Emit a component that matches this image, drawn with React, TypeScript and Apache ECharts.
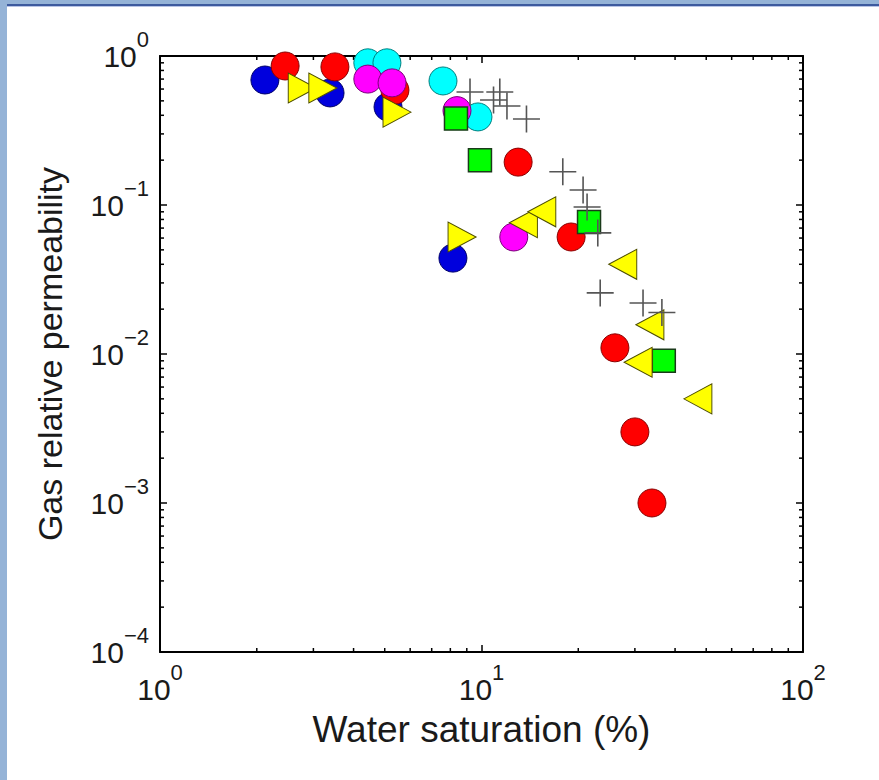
import React, { useEffect, useRef } from 'react';
import * as echarts from 'echarts';

// ---- data ----
const blueX = [2.12, 3.38, 5.12, 8.15];
const blueY = [0.69, 0.565, 0.455, 0.044];

const redX = [2.45, 3.5, 5.38, 13.0, 19.0, 26.0, 30.0, 33.9];
const redY = [0.857, 0.845, 0.59, 0.194, 0.061, 0.011, 0.003, 0.001];

const cyanX = [4.43, 5.08, 7.59, 9.75];
const cyanY = [0.9, 0.9, 0.68, 0.39];

const magentaX = [4.43, 5.27, 8.39, 12.6];
const magentaY = [0.7, 0.66, 0.43, 0.061];

const greenX = [8.33, 9.89, 21.6, 36.9];
const greenY = [0.38, 0.2, 0.077, 0.009];

const rightTriX = [2.77, 3.21, 5.46, 8.7];
const rightTriY = [0.61, 0.61, 0.42, 0.061];

const leftTriX = [13.5, 15.4, 27.5, 33.4, 30.7, 47.1];
const leftTriY = [0.076, 0.09, 0.04, 0.0157, 0.0088, 0.005];

const plusX = [9.21, 11.4, 10.9, 12.0, 13.8, 17.9, 20.7, 21.3, 23.0, 23.4, 31.8, 36.4];
const plusY = [0.573, 0.573, 0.507, 0.462, 0.378, 0.167, 0.126, 0.097, 0.065, 0.0257, 0.022, 0.019];

const xMin = 1;
const xMax = 100;
const yMin = 1e-4;
const yMax = 1;
const xMinorTicks = [2, 3, 4, 5, 6, 7, 8, 9, 20, 30, 40, 50, 60, 70, 80, 90];
const yMinorTicks = [
  2e-4, 3e-4, 4e-4, 5e-4, 6e-4, 7e-4, 8e-4, 9e-4,
  2e-3, 3e-3, 4e-3, 5e-3, 6e-3, 7e-3, 8e-3, 9e-3,
  2e-2, 3e-2, 4e-2, 5e-2, 6e-2, 7e-2, 8e-2, 9e-2,
  0.2, 0.3, 0.4, 0.5, 0.6, 0.7, 0.8, 0.9,
];

const xTitle = 'Water saturation (%)';
const yTitle = 'Gas relative permeability';

const FONT = '"Liberation Sans", Arial, Helvetica, sans-serif';
const TXT = '#1a1a1a';

const zip = (xs: number[], ys: number[]) => xs.map((x, i) => [x, ys[i]]);

const powLabel = (v: number) => {
  const e = Math.round(Math.log10(v));
  const s = e < 0 ? '\u2212' + Math.abs(e) : String(e);
  return `{b|10}{s|${s}}`;
};

const richStyle = {
  b: { fontSize: 30, lineHeight: 56, fontFamily: FONT, color: TXT },
  s: { fontSize: 22, lineHeight: 20, verticalAlign: 'top', fontFamily: FONT, color: TXT },
};

export default function App() {
  const ref = useRef<HTMLDivElement>(null);

  useEffect(() => {
    if (!ref.current) return;
    const chart = echarts.init(ref.current, undefined, { renderer: 'svg' });

    const axisLine = { show: true, lineStyle: { color: '#000', width: 2 } };
    const axisTick = { show: true, inside: true, length: 7, lineStyle: { color: '#000', width: 1.5 } };

    const tickLine = (x1: number, y1: number, x2: number, y2: number) => ({
      type: 'line',
      shape: { x1, y1, x2, y2 },
      style: { stroke: '#000', lineWidth: 1.5 },
    });

    const circle = (name: string, xs: number[], ys: number[], fill: string, edge: string) => ({
      name,
      type: 'scatter',
      data: zip(xs, ys),
      symbol: 'circle',
      symbolSize: 28,
      itemStyle: { color: fill, borderColor: edge, borderWidth: 1, opacity: 1 },
      z: 3,
    });

    const option: any = {
      animation: false,
      backgroundColor: '#fff',
      graphic: [
        { type: 'rect', left: 0, top: 0, shape: { width: 879, height: 4 }, style: { fill: '#95b3d7' }, z: 100 },
        { type: 'rect', left: 0, top: 4, shape: { width: 879, height: 2 }, style: { fill: '#3d5a9e' }, z: 100 },
        { type: 'rect', left: 0, top: 6, shape: { width: 879, height: 1 }, style: { fill: '#b8c4e6' }, z: 100 },
        { type: 'rect', left: 0, top: 0, shape: { width: 7, height: 780 }, style: { fill: '#95b3d7' }, z: 101 },
      ],
      grid: { left: 160, right: 76, top: 56, bottom: 128, containLabel: false },
      xAxis: [
        {
          type: 'log',
          logBase: 10,
          min: xMin,
          max: xMax,
          position: 'bottom',
          axisLine,
          axisTick,
          splitLine: { show: false },
          axisLabel: { formatter: powLabel, rich: richStyle, margin: 9 },
          name: xTitle,
          nameLocation: 'middle',
          nameGap: 77,
          nameTextStyle: { fontSize: 37, fontFamily: FONT, color: TXT, verticalAlign: 'middle' },
        },
        {
          type: 'log',
          logBase: 10,
          min: xMin,
          max: xMax,
          position: 'top',
          axisLine,
          axisTick,
          splitLine: { show: false },
          axisLabel: { show: false },
        },
      ],
      yAxis: [
        {
          type: 'log',
          logBase: 10,
          min: yMin,
          max: yMax,
          position: 'left',
          axisLine,
          axisTick,
          splitLine: { show: false },
          axisLabel: { formatter: powLabel, rich: richStyle, margin: 11 },
          name: yTitle,
          nameLocation: 'middle',
          nameGap: 110,
          nameRotate: 90,
          nameTextStyle: { fontSize: 34, fontFamily: FONT, color: TXT, verticalAlign: 'middle' },
        },
        {
          type: 'log',
          logBase: 10,
          min: yMin,
          max: yMax,
          position: 'right',
          axisLine,
          axisTick,
          splitLine: { show: false },
          axisLabel: { show: false },
        },
      ],
      series: [
        {
          type: 'custom',
          name: 'xMinor',
          silent: true,
          z: 1,
          data: xMinorTicks.map((v) => [v, yMax]),
          renderItem: (params: any, api: any) => {
            const cs = params.coordSys;
            const px = api.coord([api.value(0), yMax])[0];
            const bottom = cs.y + cs.height;
            return {
              type: 'group',
              children: [tickLine(px, bottom, px, bottom - 4), tickLine(px, cs.y, px, cs.y + 4)],
            };
          },
        },
        {
          type: 'custom',
          name: 'yMinor',
          silent: true,
          z: 1,
          data: yMinorTicks.map((v) => [xMin, v]),
          renderItem: (params: any, api: any) => {
            const cs = params.coordSys;
            const py = api.coord([xMin, api.value(1)])[1];
            const right = cs.x + cs.width;
            return {
              type: 'group',
              children: [tickLine(cs.x, py, cs.x + 4, py), tickLine(right, py, right - 4, py)],
            };
          },
        },
        circle('blue', blueX, blueY, '#0000dd', '#00006a'),
        circle('red', redX, redY, '#ff0000', '#8a0000'),
        circle('cyan', cyanX, cyanY, '#00ffff', '#007f7f'),
        circle('magenta', magentaX, magentaY, '#ff00ff', '#7a007a'),
        {
          name: 'green',
          type: 'scatter',
          data: zip(greenX, greenY),
          symbol: 'rect',
          symbolSize: 23,
          itemStyle: { color: '#00ff00', borderColor: '#1a3a1a', borderWidth: 1.5, opacity: 1 },
          z: 4,
        },
        {
          name: 'rightTri',
          type: 'scatter',
          data: zip(rightTriX, rightTriY),
          symbol: 'triangle',
          symbolSize: [30, 28],
          symbolRotate: -90,
          itemStyle: { color: '#ffff00', borderColor: '#4d4d00', borderWidth: 1, opacity: 1 },
          z: 5,
        },
        {
          name: 'leftTri',
          type: 'scatter',
          data: zip(leftTriX, leftTriY),
          symbol: 'triangle',
          symbolSize: [30, 28],
          symbolRotate: 90,
          itemStyle: { color: '#ffff00', borderColor: '#4d4d00', borderWidth: 1, opacity: 1 },
          z: 5,
        },
        {
          name: 'plus',
          type: 'scatter',
          data: zip(plusX, plusY),
          symbol: 'path://M12,0 L12,24 M0,12 L24,12',
          symbolSize: 27,
          itemStyle: { color: 'transparent', borderColor: '#555', borderWidth: 1.6, opacity: 1 },
          z: 6,
        },
      ],
    };

    chart.setOption(option);
    return () => chart.dispose();
  }, []);

  return (
    <div
      ref={ref}
      style={{ position: 'fixed', left: 0, top: 0, width: 879, height: 780, background: '#fff' }}
    />
  );
}
